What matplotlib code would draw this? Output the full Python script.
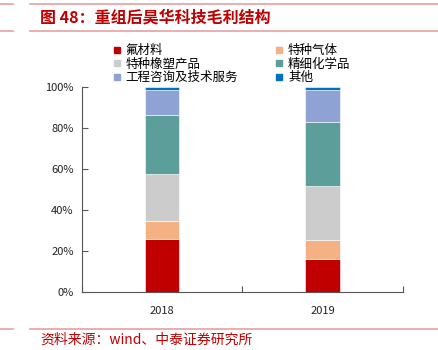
import numpy as np
import matplotlib.pyplot as plt
from matplotlib.lines import Line2D

plt.rcParams['font.family'] = ['Noto Sans CJK SC', 'DejaVu Sans']

# data (share of gross profit, %)
years = ['2018', '2019']
series = ['氟材料', '特种气体', '特种橡塑产品', '精细化学品', '工程咨询及技术服务', '其他']
fluor = [25.7, 16.2]
gas = [8.6, 9.3]
rubber = [23.4, 26.3]
fine_chem = [28.8, 31.0]
service = [11.9, 15.6]
other = [1.6, 1.6]
values = [fluor, gas, rubber, fine_chem, service, other]
colors = ['#C00000', '#F4B183', '#CCCCCC', '#5B9E9A', '#8FA2D4', '#0070C0']

fig = plt.figure(figsize=(4.38, 3.5), dpi=100)
ax = fig.add_axes([82/438, 1-291.7/350, 320.7/438, 204.7/350])

x = np.arange(len(years))
bottom = np.zeros(len(years))
for name, v, c in zip(series, values, colors):
    ax.bar(x, v, width=0.216, bottom=bottom, color=c, label=name,
           edgecolor='white', linewidth=0.4)
    bottom += np.array(v)

ax.set_xlim(-0.5, 1.5)
ax.set_ylim(0, 100)
ax.set_yticks(np.arange(0, 101, 20))
ax.set_yticklabels([f'{t}%' for t in range(0, 101, 20)], fontsize=8, color='#222222')
ax.set_xticks([-0.5, 0.5, 1.5], minor=False)
ax.set_xticklabels(['', '', ''])
ax.set_xticks(x, minor=True)
ax.set_xticklabels(years, minor=True, fontsize=8, color='#222222')
ax.tick_params(axis='x', which='minor', length=0, pad=10)
ax.tick_params(axis='x', which='major', direction='in', length=4, color='#555555')
ax.tick_params(axis='y', direction='in', length=4, color='#555555', pad=6)
for s in ['top', 'right']:
    ax.spines[s].set_visible(False)
ax.spines['left'].set_color('#555555')
ax.spines['bottom'].set_color('#555555')

# legend, row-major order in two columns
order = [0, 2, 4, 1, 3, 5]
handles = [Line2D([], [], marker='s', linestyle='', markersize=5,
                  markerfacecolor=colors[i], markeredgecolor=colors[i]) for i in order]
labels = [series[i] for i in order]
leg = fig.legend(handles, labels, ncol=2, loc='upper left',
                 bbox_to_anchor=(113/438, 1-44/350), frameon=False,
                 fontsize=9, handlelength=0.6, handletextpad=0.4,
                 columnspacing=3.0, labelspacing=0.05, borderaxespad=0,
                 borderpad=0)

# header / footer
red = '#C00000'
line_red = '#E8A0A0'
for yy in [4, 31, 329]:
    fig.add_artist(Line2D([0, 13/438], [1-yy/350]*2, color=line_red, lw=1.2))
    fig.add_artist(Line2D([30/438, 1], [1-yy/350]*2, color=line_red, lw=1.2))

fig.text(40/438, 1-17/350, '图 48：重组后昊华科技毛利结构', color=red,
         fontsize=11.5, fontweight='bold', va='center', ha='left')
fig.text(40/438, 1-340/350, '资料来源：wind、中泰证券研究所', color=red,
         fontsize=10, va='center', ha='left')

fig.savefig('out.png', dpi=100)
